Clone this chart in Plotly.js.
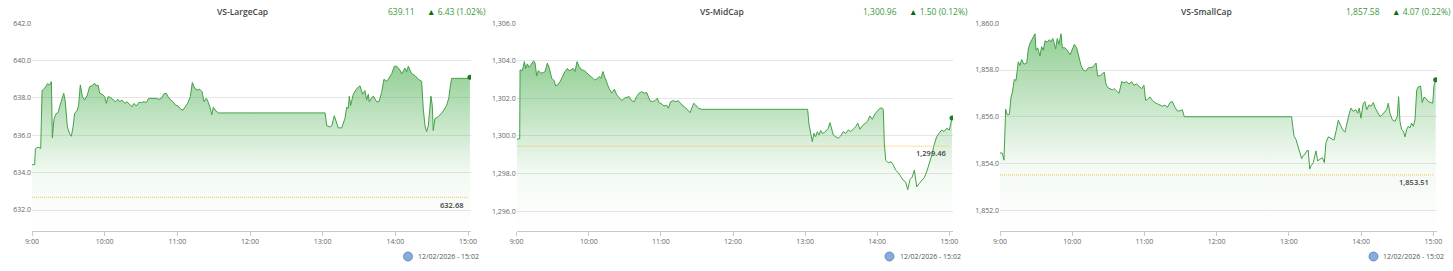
<!DOCTYPE html>
<html><head><meta charset="utf-8">
<script src="https://cdn.plot.ly/plotly-3.0.1.min.js"></script>
<style>html,body{margin:0;padding:0;background:#fff}#chart{width:1453px;height:271px}</style>
</head><body><div id="chart"></div><script>
// ---------- DATA ----------
const hourTickMinutes = [0, 60, 120, 180, 240, 300, 360];
const hourTickLabels = ["9:00", "10:00", "11:00", "12:00", "13:00", "14:00", "15:00"];
const indexNames = ["VS-LargeCap", "VS-MidCap", "VS-SmallCap"];
const lastValueLabels = ["639.11", "1,300.96", "1,857.58"];
const changeLabels = ["6.43 (1.02%)", "1.50 (0.12%)", "4.07 (0.22%)"];
const referenceValues = [632.68, 1299.46, 1853.51];
const referenceLabels = ["632.68", "1,299.46", "1,853.51"];
const updateStamp = "12/02/2026 - 15:02";

const lcMinutes = [0,2.2,2.8,5,7.2,8.3,10.5,12.7,14.6,16,16.8,18.2,20.1,21.5,22.8,24.2,26.2,27.5,29.2,31.1,32.5,33.9,35.2,37.4,38.5,39.9,41.6,43.5,45.7,47.6,49.5,51.7,53.1,54.5,55.9,57.8,60,61.4,62.8,65,66.9,68.8,71,72.4,74.3,76.5,78.4,80.6,82.6,84.2,86.1,88.4,90.3,92.5,94.4,96.3,98.5,100.7,102.7,104.6,106.8,109,110.9,112.3,114.5,116.4,118.4,120.6,122.8,124.7,126.6,128.8,130.7,132.4,134.3,136.5,138.4,140.4,142,143.9,144.8,147,148.4,149.7,151.9,153.8,
  242,243.4,246.1,247.5,249.6,251.6,252.9,255.7,258.4,259.8,261.2,262,263.1,265.3,268.1,270.8,273,274.9,276.3,277.7,278.5,280.4,281.8,284.6,286.5,288.7,290.6,292.8,294.2,297,299.2,301.1,303.8,305.2,308,309.3,310.7,313.5,316.2,319,321.7,323.1,324.5,325.8,327.2,329.4,330.5,331.3,332.7,335.5,338.2,339.6,342.3,344.2,345.1,346.5,360.2,361.6];
const lcValues = [634.43,634.43,635.28,635.37,635.3,638.4,638.52,638.76,638.7,638.88,635.87,636.9,637.17,637.21,637.53,637.8,638.25,637.8,636.45,636.09,635.95,636.45,637.17,637.35,637.62,638.7,638.07,637.89,638.16,638.61,638.65,638.79,638.65,638.7,638.25,638.2,638.07,637.71,638.07,638.02,637.89,637.8,637.93,637.8,637.89,637.71,637.8,637.66,637.53,637.71,637.57,637.77,637.75,637.8,637.75,637.98,637.98,638.02,637.98,637.93,637.98,638.22,638.25,638.07,637.89,637.8,637.62,637.57,637.39,637.35,637.53,637.75,638.07,638.83,638.52,638.43,638.47,638.34,637.8,637.98,637.9,637.5,637.1,637.5,637.3,637.2,
  637.2,636.51,636.45,636.5,637.05,636.65,636.4,636.4,636.9,637.5,637.45,638.1,637.6,638.2,638.5,638.65,638.2,638.4,637.9,638.2,637.8,638,638.1,637.8,637.8,638.3,639,638.9,639,639.3,639.7,639.7,639.5,639.3,639.6,639.4,639.7,639.3,639.2,639,638.9,637.4,636.5,636.2,636.5,638.1,637.6,636.25,636.9,637,637.2,637.3,637.6,638,638.5,639.05,639.05,639.11];

const mcMinutes = [0,2.5,2.8,4.7,6.4,7.5,8.9,10.3,11.9,14.1,15.3,16.6,18,20.2,22.2,23.6,25.5,27.2,29.1,31.1,32.4,34.1,36.1,38,40.2,42.2,43.5,45.2,47.1,48.5,50.2,51.9,54.1,56.3,58.2,60.2,62.4,64.6,66.6,68.5,70.2,71.8,72.9,74.9,76.8,79,81.3,83.2,85.1,87.4,89.6,91.5,93.5,95.7,97.9,99.8,101.8,104,106.2,108.2,109.6,110.9,112.9,115.1,117,118.4,120.6,122.6,124.8,126.2,128.1,130.4,132.3,134.5,136.7,138.7,140.6,142.3,144.2,145.6,147.3,148.9,151.2,153.9,
  242.1,243.3,244.7,246,247.4,248.8,250.2,251.6,253,254.3,256,258,259.3,260.7,262.1,263.5,265.5,267.6,269.6,271.8,273.8,276,278,280.1,282.1,283.8,285.7,287.6,289.9,291.8,294,295.9,298.2,300.1,302.3,304.3,305.1,305.9,307.1,309.2,311.5,313.4,315.4,317.6,319.6,321.7,323.7,325.4,327.3,329.2,330.9,332.9,334.8,337.1,339.2,341.2,343.1,345.4,347.3,349.5,351.4,353.7,355.6,357.8,360,361.2,362.3];
const mcValues = [1299.84,1299.84,1303.52,1303.48,1303.96,1303.6,1303.84,1303.66,1303.79,1304.0,1303.88,1303.2,1303.48,1303.34,1303.38,1303.43,1303.88,1303.6,1303.08,1302.95,1302.67,1302.72,1302.9,1303.16,1303.43,1303.6,1303.48,1303.52,1303.6,1303.43,1303.96,1303.7,1303.52,1303.48,1303.34,1303.25,1303.13,1302.99,1303.02,1303.16,1303.08,1303.43,1303.2,1302.81,1302.54,1302.28,1302.49,1302.19,1302.06,1301.88,1302.01,1302.06,1302.1,1301.88,1301.83,1302.1,1302.28,1302.36,1302.28,1302.31,1302.1,1301.88,1301.83,1301.88,1302.01,1301.78,1301.71,1301.6,1301.64,1301.48,1301.83,1301.88,1301.83,1301.88,1301.71,1301.6,1301.48,1301.39,1301.24,1301.48,1301.74,1301.65,1301.48,1301.42,
  1301.42,1300.59,1300.05,1299.7,1300.14,1299.96,1300.23,1300.05,1300.29,1300.14,1300.18,1300.32,1300.41,1300.71,1300.41,1300.05,1299.96,1299.88,1300.0,1300.23,1300.14,1300.32,1300.23,1300.36,1300.5,1300.68,1300.36,1300.54,1300.68,1300.77,1301.07,1300.89,1301.18,1301.3,1301.48,1301.48,1301.39,1299.61,1298.71,1298.57,1298.63,1298.45,1298.18,1298.04,1297.82,1297.64,1297.55,1297.14,1297.68,1297.82,1298.18,1297.29,1297.46,1297.64,1297.79,1298.09,1298.45,1298.98,1299.52,1299.96,1300.14,1300.32,1300.23,1300.41,1300.32,1300.59,1300.96];

const scMinutes = [0,1.9,3.3,4.7,6.1,7.8,9.1,10.5,11.9,13.3,15.2,16.6,18,19.9,22.2,23.5,24.9,26.3,27.7,29.1,29.9,31.3,33.2,34.6,36,37.4,39.3,41,42.4,43.8,45.1,46.2,47.6,49,50.7,51.8,54,55.9,58.2,60.1,61.8,63.7,65.6,67.3,69.2,71.2,73.4,75.6,77.5,79.8,81.1,83.1,85,86.7,87.8,89.4,91.4,93.3,95,96.9,98.9,101.1,103,105.2,107.2,109.4,111.3,113.5,115.5,117.7,119.6,121,122.7,124.6,126.6,128.8,131,132.9,134.9,137.1,139,141.2,143.2,145.4,147.3,149.5,151.5,153.1,
  242.3,243.2,244.3,245.9,247.3,248.7,250.6,252,253.4,254.8,256.1,257.3,258.4,260.3,262.5,263.9,265.9,267.8,269.5,270.8,272.8,275,277.5,279.2,281.1,283.1,284.7,286.6,288.6,290.2,291.6,293.5,295.5,297.2,298.5,299.9,301.8,303.2,304.7,306.6,308.2,310.2,311.8,313.8,315.7,317.6,319.9,321.3,322.6,324,326,328.2,330.1,331.2,332.3,333.7,335.1,336.5,337.9,339.2,340.6,342,343.4,344.8,346.2,347.5,349.5,350.8,352.2,353.9,355.8,357.8,359.5,360.6,362];
const scValues = [1854.45,1854.45,1854.14,1856.32,1856.08,1856.1,1856.8,1857.1,1857.6,1857.55,1858.35,1858.2,1858.45,1858.25,1858.3,1858.9,1859.15,1859.3,1859.45,1859.55,1858.85,1858.95,1858.6,1859.0,1858.85,1859.25,1859.2,1859.3,1859.2,1859.35,1859.15,1858.9,1859.35,1859.1,1859.55,1858.95,1858.95,1858.85,1858.65,1858.85,1859.1,1858.95,1858.55,1858.2,1858.0,1857.95,1858.1,1858.1,1858.15,1858.3,1857.75,1857.75,1857.85,1857.9,1857.45,1857.25,1857.2,1857.15,1857.2,1857.1,1857.0,1857.5,1857.45,1857.5,1857.4,1857.5,1857.35,1857.4,1857.3,1857.2,1857.35,1856.7,1856.75,1856.85,1856.7,1856.6,1856.55,1856.5,1856.45,1856.5,1856.4,1856.6,1856.65,1856.4,1856.25,1856.25,1856.3,1856.0,
  1856.0,1855.59,1855.17,1855.03,1854.75,1854.54,1854.21,1854.35,1854.39,1854.54,1854.56,1853.76,1853.9,1854.04,1854.54,1854.11,1854.18,1854.25,1854.04,1854.89,1855.14,1855.06,1855.0,1855.38,1855.85,1855.62,1855.45,1855.34,1855.87,1856.15,1856.37,1856.23,1856.3,1856.15,1856.37,1855.94,1856.58,1856.65,1856.3,1856.51,1856.44,1856.61,1856.37,1856.15,1856.01,1856.08,1856.23,1856.32,1856.58,1856.15,1855.87,1855.8,1856.01,1856.86,1855.8,1855.45,1855.38,1855.14,1855.45,1855.59,1855.52,1855.73,1855.59,1855.87,1857.14,1857.28,1857.31,1856.61,1856.83,1856.79,1856.65,1856.61,1856.58,1857.35,1857.58];

// ---------- LAYOUT / STYLE ----------
const W = 1453, H = 271;
const px = x => x / W, py = y => 1 - y / H;
const FONT = "'Open Sans', 'Noto Sans', sans-serif";
const LINE = '#43a047';
const series = [
  {t: lcMinutes, v: lcValues, x9: 32, x15: 468, xr: 471, yr: [630.875, 642], titleX: 242, valR: 417, chgL: 425, refR: 466, refY: 205, globeX: 408, stampL: 416},
  {t: mcMinutes, v: mcValues, x9: 516.7, x15: 949.3, xr: 953, yr: [1294.94, 1306], titleX: 722, valR: 899, chgL: 907, refR: 948, refY: 153, globeX: 889.5, stampL: 898},
  {t: scMinutes, v: scValues, x9: 1000, x15: 1433.3, xr: 1437, yr: [1851.11, 1860], titleX: 1206, valR: 1382, chgL: 1390, refR: 1431, refY: 182, globeX: 1373.5, stampL: 1381}
];
const yTop = 23.3, yBot = 231;

const data = [], shapes = [], annotations = [];
const layout = {
  width: W, height: H, margin: {l: 0, r: 0, t: 0, b: 0},
  paper_bgcolor: '#fff', plot_bgcolor: '#fff', showlegend: false,
  font: {family: FONT, size: 7, color: '#666'}
};

series.forEach((s, i) => {
  const k = i === 0 ? '' : String(i + 1);
  const xa = 'x' + k, ya = 'y' + k;
  const xEnd = (s.xr - s.x9) / (s.x15 - s.x9) * 360;
  layout['xaxis' + k] = {
    domain: [px(s.x9), px(s.xr)], range: [0, xEnd], anchor: ya,
    showgrid: false, zeroline: false, showline: true, linecolor: '#c8c8c8', linewidth: 1,
    ticks: 'outside', ticklen: 4, tickcolor: '#c8c8c8',
    tickmode: 'array', tickvals: hourTickMinutes, ticktext: hourTickLabels,
    tickfont: {family: FONT, size: 7, color: '#666'}, fixedrange: true
  };
  layout['yaxis' + k] = {
    domain: [py(yBot), py(yTop)], range: s.yr, anchor: xa,
    dtick: 2, tick0: 0, tickformat: ',.1f', showgrid: true, gridcolor: '#e6e6e6', gridwidth: 1,
    zeroline: false, showline: false, ticks: '',
    tickfont: {family: FONT, size: 7, color: '#666'}, fixedrange: true
  };
  const vmax = Math.max(...s.v);
  data.push({
    type: 'scatter', mode: 'lines', x: s.t, y: s.v, xaxis: xa, yaxis: ya,
    line: {color: LINE, width: 1, shape: 'linear'},
    fill: 'tozeroy',
    fillgradient: {type: 'vertical', start: s.yr[0], stop: vmax,
      colorscale: [[0, 'rgba(76,175,80,0)'], [0.35, 'rgba(76,175,80,0.07)'], [1, 'rgba(76,175,80,0.6)']]},
    hoverinfo: 'skip'
  });
  data.push({
    type: 'scatter', mode: 'markers', x: [s.t[s.t.length - 1]], y: [s.v[s.v.length - 1]],
    xaxis: xa, yaxis: ya, marker: {color: '#1b7a1b', size: 5}, hoverinfo: 'skip'
  });
  shapes.push({type: 'line', xref: xa, yref: ya, x0: 0, x1: 360,
    y0: referenceValues[i], y1: referenceValues[i],
    line: {color: 'rgb(248,192,80)', width: 1, dash: '1px,1px'}, layer: 'above'});
  // globe icon
  shapes.push({type: 'circle', xref: 'paper', yref: 'paper',
    x0: px(s.globeX - 4.5), x1: px(s.globeX + 4.5), y0: py(261), y1: py(252),
    fillcolor: '#86acd9', line: {color: '#4f7fc2', width: 0.8}});
  annotations.push(
    {xref: 'paper', yref: 'paper', x: px(s.titleX), y: py(12), xanchor: 'center', yanchor: 'middle',
      text: indexNames[i], showarrow: false, font: {family: FONT, size: 8.5, color: '#444', weight: 600}},
    {xref: 'paper', yref: 'paper', x: px(s.valR), y: py(12), xanchor: 'right', yanchor: 'middle',
      text: lastValueLabels[i], showarrow: false, font: {family: FONT, size: 8.5, color: '#3a9a3a'}},
    {xref: 'paper', yref: 'paper', x: px(s.chgL), y: py(12), xanchor: 'left', yanchor: 'middle',
      text: '<span style="color:#0b6b0b">▲</span> ' + changeLabels[i], showarrow: false,
      font: {family: FONT, size: 8.5, color: '#3a9a3a'}},
    {xref: 'paper', yref: 'paper', x: px(s.refR), y: py(s.refY), xanchor: 'right', yanchor: 'middle',
      text: referenceLabels[i], showarrow: false, font: {family: FONT, size: 7.5, color: '#444', weight: 600}},
    {xref: 'paper', yref: 'paper', x: px(s.stampL), y: py(256.5), xanchor: 'left', yanchor: 'middle',
      text: updateStamp, showarrow: false, font: {family: FONT, size: 7, color: '#555'}}
  );
});
layout.shapes = shapes;
layout.annotations = annotations;

Plotly.newPlot('chart', data, layout, {staticPlot: true, displayModeBar: false});
</script></body></html>
